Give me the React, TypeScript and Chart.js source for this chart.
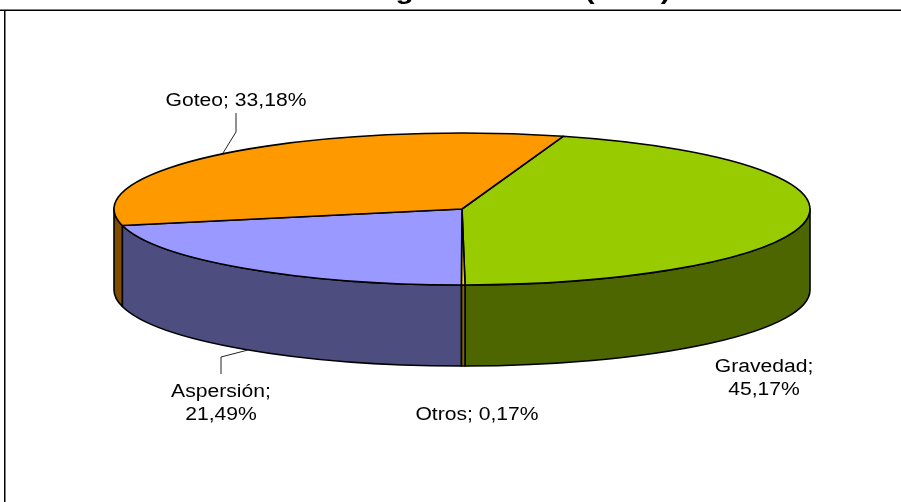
import React, { useEffect, useRef } from "react";
import { Chart, registerables } from "chart.js";

Chart.register(...registerables);

const categories = ["Gravedad", "Otros", "Aspersión", "Goteo"];
const shares = [45.17, 0.17, 21.49, 33.18];
const topColors = ["#99CC00", "#FFCC00", "#9999FF", "#FF9900"];
const sideColors = ["#4D6600", "#806600", "#4D4D80", "#804D00"];
const titleText = "Sistemas de riego utilizados (2007)";

const RX = 348;
const RY = 76;
const DEPTH = 81;
const FONT = '"Liberation Sans", Arial, sans-serif';
const TITLE_STRETCH = 1.235;
const LABEL_STRETCH = 1.173;

const labelPlacement: Record<string, { x: number; y: number; wrap: boolean }> = {
  Gravedad: { x: 764, y: 372, wrap: true },
  Otros: { x: 477, y: 420, wrap: false },
  "Aspersión": { x: 221, y: 397, wrap: true },
  Goteo: { x: 236, y: 106, wrap: false },
};
const leaders = [
  [[236, 113], [236, 132], [223, 153]],
  [[221, 374], [221, 357], [248, 350]],
];

function stretchedText(ctx: CanvasRenderingContext2D, text: string, x: number, y: number, align: CanvasTextAlign, stretch: number) {
  ctx.save();
  ctx.translate(x, y);
  ctx.scale(stretch, 1);
  ctx.textAlign = align;
  ctx.textBaseline = "alphabetic";
  ctx.fillText(text, 0, 0);
  ctx.restore();
}

const pie3d = {
  id: "pie3d",
  beforeDatasetsDraw(chart: any) {
    const ctx: CanvasRenderingContext2D = chart.ctx;
    const arcs = chart.getDatasetMeta(0).data;
    ctx.save();

    // frame
    ctx.fillStyle = "#000";
    ctx.fillRect(0, 9.5, 901, 1.5);
    ctx.fillRect(4, 10, 1.5, 492);

    // title, cut by the top of the picture
    ctx.font = `bold 24px ${FONT}`;
    stretchedText(ctx, titleText, 178, -1, "left", TITLE_STRETCH);

    ctx.lineWidth = 1.6;
    ctx.strokeStyle = "#000";
    ctx.lineJoin = "round";

    // walls of the front half
    arcs.forEach((el: any, i: number) => {
      const s = Math.max(el.startAngle, 0);
      const e = Math.min(el.endAngle, Math.PI);
      if (e <= s) return;
      ctx.beginPath();
      ctx.ellipse(el.x, el.y, RX, RY, 0, s, e, false);
      ctx.ellipse(el.x, el.y + DEPTH, RX, RY, 0, e, s, true);
      ctx.closePath();
      ctx.fillStyle = sideColors[i];
      ctx.fill();
      ctx.stroke();
    });

    // top faces
    arcs.forEach((el: any, i: number) => {
      ctx.beginPath();
      ctx.moveTo(el.x, el.y);
      ctx.ellipse(el.x, el.y, RX, RY, 0, el.startAngle, el.endAngle, false);
      ctx.closePath();
      ctx.fillStyle = topColors[i];
      ctx.fill();
      ctx.stroke();
    });

    // leaders
    ctx.lineWidth = 1;
    ctx.strokeStyle = "#222";
    leaders.forEach((pts) => {
      ctx.beginPath();
      pts.forEach(([x, y], k) => (k ? ctx.lineTo(x, y) : ctx.moveTo(x, y)));
      ctx.stroke();
    });

    // data labels
    ctx.fillStyle = "#000";
    ctx.font = `18px ${FONT}`;
    categories.forEach((name, i) => {
      const p = labelPlacement[name];
      const value = shares[i].toFixed(2).replace(".", ",") + "%";
      if (p.wrap) {
        stretchedText(ctx, `${name};`, p.x, p.y, "center", LABEL_STRETCH);
        stretchedText(ctx, value, p.x, p.y + 23, "center", LABEL_STRETCH);
      } else {
        stretchedText(ctx, `${name}; ${value}`, p.x, p.y, "center", LABEL_STRETCH);
      }
    });

    ctx.restore();
    return false;
  },
};

export default function App() {
  const ref = useRef<HTMLCanvasElement>(null);
  useEffect(() => {
    document.body.style.margin = "0";
    const chart = new Chart(ref.current!, {
      type: "pie",
      data: {
        labels: categories,
        datasets: [{ data: shares, backgroundColor: topColors, borderWidth: 0 }],
      },
      options: {
        animation: false,
        responsive: false,
        rotation: 16.9,
        layout: { padding: { left: 23, right: 0, top: 0, bottom: 84 } },
        plugins: { legend: { display: false }, tooltip: { enabled: false }, title: { display: false } },
      },
      plugins: [pie3d],
    } as any);
    return () => chart.destroy();
  }, []);
  return <canvas ref={ref} width={901} height={502} style={{ display: "block" }} />;
}
